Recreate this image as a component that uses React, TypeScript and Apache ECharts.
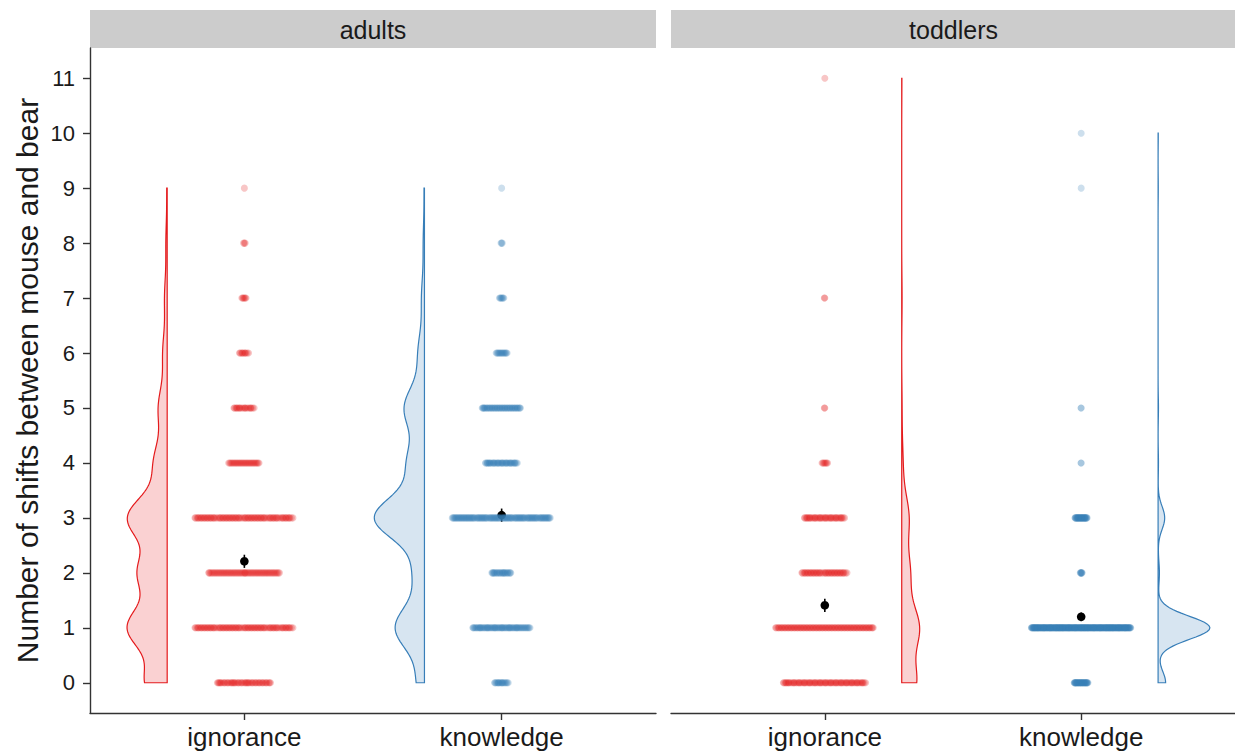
import React, { useEffect, useRef } from 'react';
import * as echarts from 'echarts';

// ---- data ----
const facets = ['adults', 'toddlers'];
const conditions = ['ignorance', 'knowledge'];
const shiftLevels = [0, 1, 2, 3, 4, 5, 6, 7, 8, 9, 10, 11];
const yTicks = [0, 1, 2, 3, 4, 5, 6, 7, 8, 9, 10, 11];

// number of observations at each shift level (index = shift count)
const adultsIgnoranceCounts = [50, 90, 65, 90, 30, 20, 10, 6, 3, 1, 0, 0];
const adultsKnowledgeCounts = [18, 70, 25, 120, 40, 48, 15, 7, 3, 1, 0, 0];
const toddlersIgnoranceCounts = [80, 95, 45, 40, 7, 2, 0, 2, 0, 0, 0, 1];
const toddlersKnowledgeCounts = [40, 275, 7, 35, 2, 2, 0, 0, 0, 1, 1, 0];

// group means and standard errors (adults-ignorance, adults-knowledge, toddlers-ignorance, toddlers-knowledge)
const groupMeans = [2.21, 3.05, 1.41, 1.2];
const groupSEs = [0.12, 0.12, 0.12, 0.08];

// ---- styling ----
const RED = '#E41A1C';
const BLUE = '#377EB8';
const FONT = "'Liberation Sans', Arial, Helvetica, sans-serif";
const TEXT = '#1a1a1a';
const AXIS = '#333333';

const violinBandwidth = [0.38, 0.38, 0.4, 0.21];
const violinMaxWidth = [0.156, 0.195, 0.07, 0.202];
const violinOffset = 0.3;
const pointMaxHalfWidth = 0.195;

type Group = {
  facet: number;
  cond: number;
  counts: number[];
  color: string;
  fill: string;
  bw: number;
  maxW: number;
  mean: number;
  se: number;
};

const groups: Group[] = [
  { facet: 0, cond: 0, counts: adultsIgnoranceCounts, color: RED, fill: 'rgba(228,26,28,0.2)', bw: violinBandwidth[0], maxW: violinMaxWidth[0], mean: groupMeans[0], se: groupSEs[0] },
  { facet: 0, cond: 1, counts: adultsKnowledgeCounts, color: BLUE, fill: 'rgba(55,126,184,0.2)', bw: violinBandwidth[1], maxW: violinMaxWidth[1], mean: groupMeans[1], se: groupSEs[1] },
  { facet: 1, cond: 0, counts: toddlersIgnoranceCounts, color: RED, fill: 'rgba(228,26,28,0.2)', bw: violinBandwidth[2], maxW: violinMaxWidth[2], mean: groupMeans[2], se: groupSEs[2] },
  { facet: 1, cond: 1, counts: toddlersKnowledgeCounts, color: BLUE, fill: 'rgba(55,126,184,0.2)', bw: violinBandwidth[3], maxW: violinMaxWidth[3], mean: groupMeans[3], se: groupSEs[3] },
];

// van der Corput sequence for an even, quasi-random spread of points
function vdc(n: number): number {
  let v = 0;
  let denom = 1;
  while (n > 0) {
    denom *= 2;
    v += (n % 2) / denom;
    n = Math.floor(n / 2);
  }
  return v;
}

function swarmPoints(g: Group): number[][] {
  const center = g.cond + 1;
  const maxCount = Math.max(...g.counts);
  const pts: number[][] = [];
  g.counts.forEach((c, k) => {
    const hw = (pointMaxHalfWidth * c) / maxCount;
    for (let i = 1; i <= c; i++) {
      pts.push([center + (2 * vdc(i) - 1) * hw, shiftLevels[k]]);
    }
  });
  return pts;
}

// half-violin outline from a gaussian kernel density, trimmed to the data range
function violinOutline(g: Group): number[][] {
  const present = shiftLevels.filter((_, k) => g.counts[k] > 0);
  const lo = Math.min(...present);
  const hi = Math.max(...present);
  const steps = 300;
  const dens: number[][] = [];
  for (let i = 0; i <= steps; i++) {
    const y = lo + ((hi - lo) * i) / steps;
    let d = 0;
    g.counts.forEach((c, k) => {
      const z = (y - shiftLevels[k]) / g.bw;
      d += c * Math.exp(-0.5 * z * z);
    });
    dens.push([y, d]);
  }
  const maxD = Math.max(...dens.map((p) => p[1]));
  const side = g.facet === 0 ? -1 : 1;
  const edge = g.cond + 1 + side * violinOffset;
  const out: number[][] = [[edge, lo]];
  dens.forEach(([y, d]) => out.push([edge + (side * g.maxW * d) / maxD, y]));
  out.push([edge, hi]);
  return out;
}

const GRID_TOP = 48;
const GRID_H = 665;
const grids = [
  { left: 90, top: GRID_TOP, width: 566, height: GRID_H },
  { left: 671, top: GRID_TOP, width: 565, height: GRID_H },
];

function buildOption(): any {
  const series: any[] = [];

  groups.forEach((g, gi) => {
    const outline = violinOutline(g);
    series.push({
      type: 'custom',
      name: `violin-${gi}`,
      coordinateSystem: 'cartesian2d',
      xAxisIndex: g.facet,
      yAxisIndex: g.facet,
      silent: true,
      clip: false,
      data: [[g.cond + 1, 0]],
      renderItem: (_params: any, api: any) => ({
        type: 'polygon',
        shape: { points: outline.map((p) => api.coord(p)) },
        style: { fill: g.fill, stroke: g.color, lineWidth: 1.2 },
      }),
    });
  });

  groups.forEach((g, gi) => {
    series.push({
      type: 'scatter',
      name: `points-${gi}`,
      xAxisIndex: g.facet,
      yAxisIndex: g.facet,
      silent: true,
      symbol: 'circle',
      symbolSize: 7,
      itemStyle: { color: g.color, opacity: 0.25 },
      data: swarmPoints(g),
    });
  });

  groups.forEach((g, gi) => {
    series.push({
      type: 'custom',
      name: `mean-${gi}`,
      coordinateSystem: 'cartesian2d',
      xAxisIndex: g.facet,
      yAxisIndex: g.facet,
      silent: true,
      data: [[g.cond + 1, g.mean, g.se]],
      renderItem: (_params: any, api: any) => {
        const x = api.value(0);
        const m = api.value(1);
        const s = api.value(2);
        const top = api.coord([x, m + s]);
        const bot = api.coord([x, m - s]);
        const c = api.coord([x, m]);
        return {
          type: 'group',
          children: [
            {
              type: 'line',
              shape: { x1: top[0], y1: top[1], x2: bot[0], y2: bot[1] },
              style: { stroke: '#000', lineWidth: 1.6 },
            },
            {
              type: 'circle',
              shape: { cx: c[0], cy: c[1], r: 4.3 },
              style: { fill: '#000' },
            },
          ],
        };
      },
    });
  });

  const graphic: any[] = [];
  grids.forEach((gr, i) => {
    graphic.push({
      type: 'rect',
      shape: { x: gr.left, y: 10, width: gr.width, height: 38 },
      style: { fill: '#CCCCCC' },
      silent: true,
    });
    graphic.push({
      type: 'text',
      x: gr.left + gr.width / 2,
      y: 30,
      style: {
        text: facets[i],
        fill: TEXT,
        font: `25px ${FONT}`,
        textAlign: 'center',
        textVerticalAlign: 'middle',
      },
      silent: true,
    });
  });

  return {
    animation: false,
    backgroundColor: '#ffffff',
    grid: grids,
    graphic,
    xAxis: grids.map((_, i) => ({
      type: 'value',
      gridIndex: i,
      min: 0.4,
      max: 2.6,
      axisLine: { show: true, onZero: false, lineStyle: { color: AXIS, width: 1.4 } },
      axisTick: { show: true, customValues: [1, 2], length: 7, lineStyle: { color: AXIS, width: 1.4 } },
      axisLabel: {
        show: true,
        customValues: [1, 2],
        formatter: (v: number) => conditions[Math.round(v) - 1],
        fontSize: 26,
        fontFamily: FONT,
        color: TEXT,
        margin: 11,
      },
      splitLine: { show: false },
    })),
    yAxis: grids.map((_, i) => ({
      type: 'value',
      gridIndex: i,
      min: -0.55,
      max: 11.55,
      show: i === 0,
      name: i === 0 ? 'Number of shifts between mouse and bear' : '',
      nameLocation: 'middle',
      nameGap: 48,
      nameRotate: 90,
      nameTextStyle: { fontSize: 30, fontFamily: FONT, color: TEXT },
      axisLine: { show: true, onZero: false, lineStyle: { color: AXIS, width: 1.4 } },
      axisTick: { show: true, customValues: yTicks, length: 7, lineStyle: { color: AXIS, width: 1.4 } },
      axisLabel: {
        show: true,
        customValues: yTicks,
        fontSize: 22,
        fontFamily: FONT,
        color: TEXT,
        margin: 15,
      },
      splitLine: { show: false },
    })),
    series,
  };
}

export default function App() {
  const ref = useRef<HTMLDivElement>(null);
  useEffect(() => {
    if (!ref.current) return;
    const chart = echarts.init(ref.current, undefined, { renderer: 'svg' });
    chart.setOption(buildOption());
    return () => chart.dispose();
  }, []);
  return (
    <div
      ref={ref}
      style={{ position: 'fixed', left: 0, top: 0, width: 1235, height: 754, background: '#fff' }}
    />
  );
}
